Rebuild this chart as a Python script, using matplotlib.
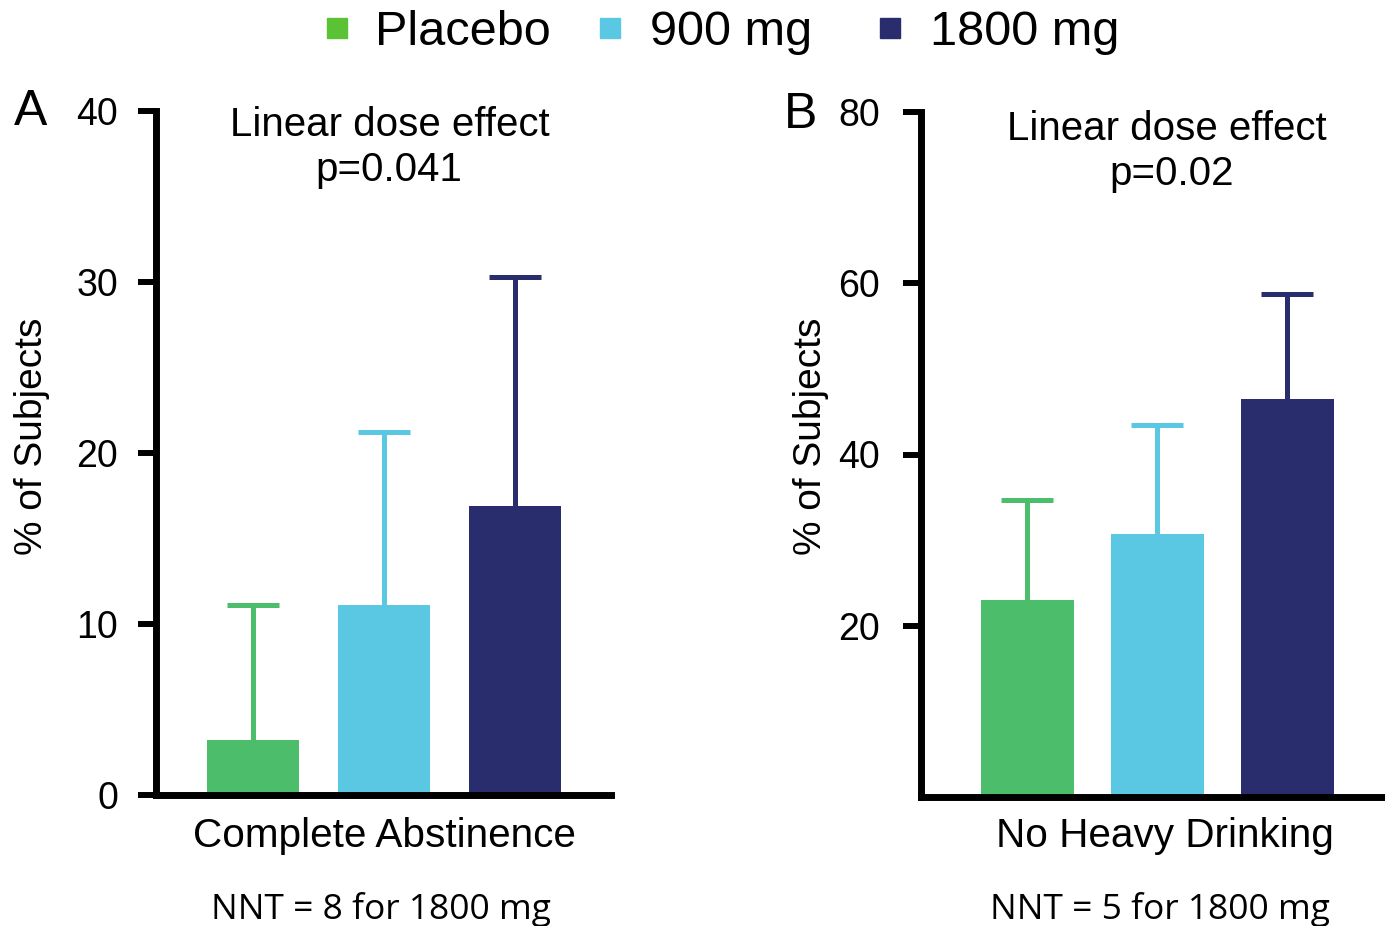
import matplotlib
matplotlib.use("Agg")
import matplotlib.pyplot as plt
from matplotlib.lines import Line2D

# ---- data ----
groups = ["Placebo", "900 mg", "1800 mg"]
abst_mean = [3.2, 11.1, 16.9]
abst_upper = [11.1, 21.2, 30.3]
heavy_mean = [23.0, 30.7, 46.5]
heavy_upper = [34.7, 43.4, 58.7]
abst_ticks = [0, 10, 20, 30, 40]
heavy_ticks = [20, 40, 60, 80]

bar_colors = ["#4CBE6B", "#5AC8E2", "#292D6D"]
legend_colors = ["#5BC236", "#5AC8E2", "#292D6D"]

W, H = 1385, 926
fig = plt.figure(figsize=(W / 100, H / 100), dpi=100)
FONT = ["Liberation Sans", "DejaVu Sans"]
plt.rcParams["font.family"] = FONT


def rect(l, r, b, t):
    return [l / W, 1 - b / H, (r - l) / W, (b - t) / H]


def px(x, y):
    return x / W, 1 - y / H


def panel(ax, means, uppers, ticks, ylim, xlim, width, capw, pad):
    x = list(range(len(means)))
    ax.bar(x, means, width=width, color=bar_colors, zorder=2)
    ax.vlines(x, means, uppers, colors=bar_colors, linewidth=3.6, zorder=3,
              capstyle="butt")
    ax.hlines(uppers, [i - capw for i in x], [i + capw for i in x],
              colors=bar_colors, linewidth=3.6, zorder=3, capstyle="butt")
    ax.set_xlim(*xlim)
    ax.set_ylim(*ylim)
    ax.set_yticks(ticks)
    ax.set_yticklabels([str(t) for t in ticks])
    for s in ["top", "right"]:
        ax.spines[s].set_visible(False)
    for s in ["left", "bottom"]:
        ax.spines[s].set_linewidth(5)
    ax.tick_params(axis="x", bottom=False, labelbottom=False)
    ax.tick_params(axis="y", length=13, width=4.3, pad=pad, labelsize=27,
                   direction="out")
    ax.set_facecolor("none")


axA = fig.add_axes(rect(155.5, 611, 795, 111))
panel(axA, abst_mean, abst_upper, abst_ticks, (0, 40), (-0.744, 2.733),
      0.706, 0.197, 14)

axB = fig.add_axes(rect(920.5, 1385, 797, 112))
panel(axB, heavy_mean, heavy_upper, heavy_ticks, (0, 80), (-0.823, 2.750),
      0.715, 0.2, 16)

# panel letters
fig.text(*px(31, 125), "A", fontsize=36, ha="center", va="baseline")
fig.text(*px(801, 128), "B", fontsize=36, ha="center", va="baseline")

# annotations
fig.text(*px(390, 136), "Linear dose effect", fontsize=29, ha="center", va="baseline")
fig.text(*px(389, 181), "p=0.041", fontsize=29, ha="center", va="baseline")
fig.text(*px(1167, 140), "Linear dose effect", fontsize=29, ha="center", va="baseline")
fig.text(*px(1172, 185), "p=0.02", fontsize=29, ha="center", va="baseline")

# x labels
fig.text(*px(384, 847), "Complete Abstinence", fontsize=29.2, ha="center", va="baseline")
fig.text(*px(1165, 847), "No Heavy Drinking", fontsize=29.2, ha="center", va="baseline")
fig.text(*px(381, 919), "NNT = 8 for 1800 mg", fontsize=25.5, ha="center",
         va="baseline", family=["Open Sans", "DejaVu Sans"])
fig.text(*px(1160, 919), "NNT = 5 for 1800 mg", fontsize=25.5, ha="center",
         va="baseline", family=["Open Sans", "DejaVu Sans"])

# y labels
fig.text(*px(32, 436), "% of Subjects", fontsize=28, ha="center", va="center",
         rotation=90)
fig.text(*px(811, 436), "% of Subjects", fontsize=28, ha="center", va="center",
         rotation=90)

# legend (manual placement)
marker_x = [336.5, 610, 890]
text_x = [375, 650, 930]
for mx, tx, c, g in zip(marker_x, text_x, legend_colors, groups):
    fig.add_artist(Line2D([mx / W], [1 - 28 / H], marker="s", linestyle="",
                          markersize=13.7, color=c, transform=fig.transFigure))
    fig.text(*px(tx, 45), g, fontsize=35, ha="left", va="baseline")

fig.savefig("out.png", dpi=100)
